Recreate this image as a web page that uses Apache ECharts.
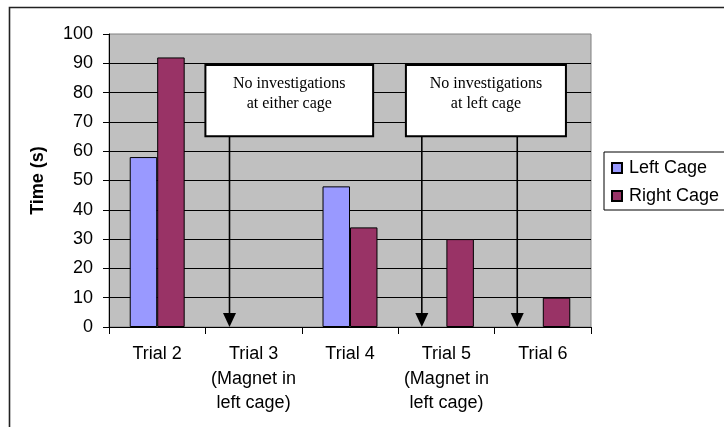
<!DOCTYPE html>
<html>
<head>
<meta charset="utf-8">
<script src="https://cdn.jsdelivr.net/npm/echarts@6/dist/echarts.min.js"></script>
<style>
html,body{margin:0;padding:0;background:#fff;}
#chart{width:724px;height:427px;}
</style>
</head>
<body>
<div id="chart"></div>
<script>
const categories = ['Trial 2', 'Trial 3\n(Magnet in\nleft cage)', 'Trial 4', 'Trial 5\n(Magnet in\nleft cage)', 'Trial 6'];
// null = no investigation recorded (no bar drawn)
const leftCage = [58, null, 48, null, null];
const rightCage = [92, null, 34, 30, 10];
const yTicks = [0, 10, 20, 30, 40, 50, 60, 70, 80, 90, 100];
// annotation boxes in data units (category index, value)
const noteText = ['No investigations\nat either cage', 'No investigations\nat left cage'];
const noteX0 = [0.5, 2.58];
const noteX1 = [2.24, 4.24];
const noteY0 = [65.1, 65.1];
const noteY1 = [89.4, 89.4];
// arrows: category index position, which note they hang from, tip value
const arrowX = [0.75, 2.745, 3.735];
const arrowNote = [0, 1, 1];
const arrowTip = [0, 0, 0];

const chart = echarts.init(document.getElementById('chart'));
const FONT = '"Liberation Sans", Arial, sans-serif';
const SERIF = '"Liberation Serif", "Times New Roman", serif';

function renderNotes(params, api) {
  const i = params.dataIndex;
  const base = api.coord([0, 0]);
  const band = api.size([1, 0])[0];
  const x0 = base[0] + noteX0[i] * band;
  const x1 = base[0] + noteX1[i] * band;
  const yTop = api.coord([0, noteY1[i]])[1];
  const yBot = api.coord([0, noteY0[i]])[1];
  const children = [];
  for (let k = 0; k < arrowX.length; k++) {
    if (arrowNote[k] !== i) continue;
    const ax = base[0] + arrowX[k] * band;
    const tipY = api.coord([0, arrowTip[k]])[1];
    const headH = 14, headW = 13;
    children.push({
      type: 'line',
      shape: {x1: ax, y1: yBot, x2: ax, y2: tipY - headH + 1},
      style: {stroke: '#000', lineWidth: 1.6}
    });
    children.push({
      type: 'polygon',
      shape: {points: [[ax - headW / 2, tipY - headH], [ax + headW / 2, tipY - headH], [ax, tipY]]},
      style: {fill: '#000'}
    });
  }
  children.push({
    type: 'rect',
    shape: {x: x0, y: yTop, width: x1 - x0, height: yBot - yTop},
    style: {fill: '#fff', stroke: '#000', lineWidth: 2}
  });
  children.push({
    type: 'text',
    style: {
      x: (x0 + x1) / 2, y: yTop + 9,
      text: noteText[i],
      font: '16px ' + SERIF,
      fill: '#000',
      align: 'center', verticalAlign: 'top',
      lineHeight: 20
    }
  });
  return {type: 'group', children: children};
}

const option = {
  animation: false,
  backgroundColor: '#fff',
  graphic: [{
    type: 'rect',
    shape: {x: 9.5, y: 7.5, width: 800, height: 500},
    style: {fill: 'none', stroke: '#222', lineWidth: 1.6},
    silent: true, z: -10
  }],
  grid: {
    left: 109, top: 34, width: 482, height: 293,
    show: true, backgroundColor: '#C0C0C0', borderColor: '#808080', borderWidth: 1
  },
  legend: {
    orient: 'vertical',
    left: 604, top: 152,
    data: ['Left Cage', 'Right Cage'],
    itemWidth: 10, itemHeight: 10, itemGap: 10,
    padding: [7, 12, 5, 7],
    borderColor: '#000', borderWidth: 1,
    icon: 'rect',
    textStyle: {fontFamily: FONT, fontSize: 18, color: '#000', padding: [0, 0, 0, 2]}
  },
  xAxis: {
    type: 'category',
    data: categories,
    axisLine: {lineStyle: {color: '#000', width: 1}},
    axisTick: {show: true, length: 7, lineStyle: {color: '#000'}},
    axisLabel: {fontFamily: FONT, fontSize: 18, color: '#000', margin: 15, lineHeight: 24.5, interval: 0}
  },
  yAxis: {
    type: 'value',
    min: 0, max: 100, interval: 10,
    name: 'Time (s)',
    nameLocation: 'middle',
    nameGap: 62,
    nameTextStyle: {fontFamily: FONT, fontSize: 18, fontWeight: 'bold', color: '#000'},
    axisLine: {show: true, lineStyle: {color: '#000', width: 1}},
    axisTick: {show: true, length: 6, lineStyle: {color: '#000'}},
    axisLabel: {fontFamily: FONT, fontSize: 18, color: '#000', margin: 16,
      formatter: v => (yTicks.indexOf(v) >= 0 ? String(v) : '')},
    splitLine: {show: true, showMaxLine: false, lineStyle: {color: '#000', width: 1}}
  },
  series: [
    {
      name: 'Left Cage', type: 'bar', data: leftCage,
      barWidth: '28.5%', barGap: '0%',
      itemStyle: {color: '#9999FF', borderColor: '#000', borderWidth: 1}
    },
    {
      name: 'Right Cage', type: 'bar', data: rightCage,
      barWidth: '28.5%', barGap: '0%',
      itemStyle: {color: '#993366', borderColor: '#000', borderWidth: 1}
    },
    {
      name: 'notes', type: 'custom',
      data: noteText.map(() => [0, 0]),
      renderItem: renderNotes,
      clip: false, z: 5, silent: true
    }
  ]
};
chart.setOption(option);
</script>
</body>
</html>
